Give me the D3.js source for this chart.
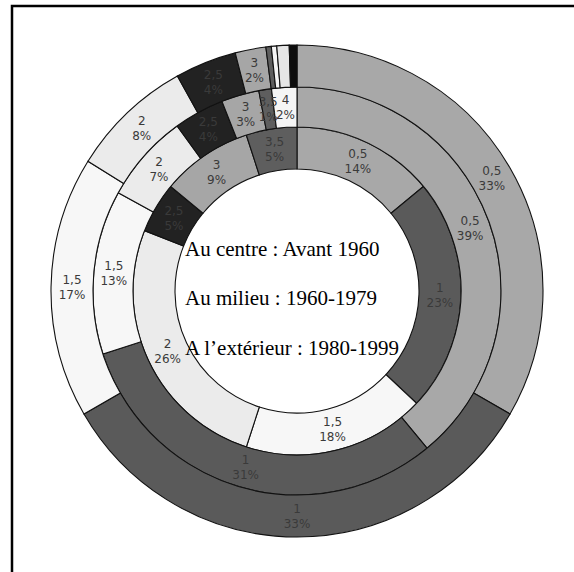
<!DOCTYPE html>
<html><head><meta charset="utf-8">
<script src="https://cdn.jsdelivr.net/npm/d3@7"></script>
<style>html,body{margin:0;padding:0;background:#fff;}svg{display:block;}</style>
</head><body>
<svg id="c" width="574" height="572"></svg>
<script>
// categories (share of each class), same order on every ring
const categories = ["0,5","1","1,5","2","2,5","3","3,5","4","4,5","5"];
const colors = ["#a8a8a8","#5a5a5a","#f7f7f7","#ebebeb","#222222","#a6a6a6","#5e5e5e","#f5f5f5","#e6e6e6","#0d0d0d"];
// percentages (rings: inner = before 1960, middle = 1960-1979, outer = 1980-1999)
const innerValues  = [14, 23, 18, 26, 5, 9, 5, 0, 0, 0];
const middleValues = [39, 31, 13, 7, 4, 3, 1, 2, 0, 0];
const outerValues  = [33, 33, 17, 8, 4, 2, 0.35, 0.35, 0.8, 0.5];
// which slices carry a label
const outerLabelled = [true,true,true,true,true,true,false,false,false,false];
const centerLines = ["Au centre : Avant 1960", "Au milieu : 1960-1979", "A l\u2019extérieur : 1980-1999"];

const svg = d3.select("#c");
const cx = 297, cy = 291;
const rings = [
  {values: innerValues,  r0: 122, r1: 164, labelled: innerValues.map(v => v > 0)},
  {values: middleValues, r0: 164, r1: 204, labelled: middleValues.map(v => v > 0)},
  {values: outerValues,  r0: 204, r1: 246, labelled: outerLabelled}
];

// frame (top and left edges)
svg.append("path").attr("d", "M12,574 L12,6 L576,6").attr("fill","none")
  .attr("stroke","#000").attr("stroke-width",2.5);

const g = svg.append("g").attr("transform", `translate(${cx},${cy})`);
const pie = d3.pie().sort(null).value(d => d.v);

rings.forEach(ring => {
  const data = categories.map((c, i) => ({c, i, v: ring.values[i], lab: ring.labelled[i]})).filter(d => d.v > 0);
  const arcs = pie(data);
  const arc = d3.arc().innerRadius(ring.r0).outerRadius(ring.r1);
  g.append("g").selectAll("path").data(arcs).join("path")
    .attr("d", arc)
    .attr("fill", d => colors[d.data.i])
    .attr("stroke", "#111").attr("stroke-width", 1.1);
  const total = d3.sum(data, d => d.v);
  const lg = g.append("g");
  arcs.filter(d => d.data.lab).forEach(d => {
    const [x, y] = arc.centroid(d);
    const t = lg.append("text").attr("text-anchor","middle")
      .attr("font-family","'DejaVu Sans', Verdana, sans-serif").attr("font-size",12)
      .attr("fill","#3a3a3a");
    t.append("tspan").attr("x", x).attr("y", y - 3.5).text(d.data.c);
    t.append("tspan").attr("x", x).attr("y", y + 11.5).text(Math.round(d.data.v / total * 100) + "%");
  });
});

// centre legend text
svg.append("g").selectAll("text").data(centerLines).join("text")
  .attr("x", 185).attr("y", (d, i) => [256, 305, 355][i])
  .attr("font-family","'Liberation Serif', 'Times New Roman', serif")
  .attr("font-size", 21).attr("fill","#000")
  .text(d => d);
</script>
</body></html>
